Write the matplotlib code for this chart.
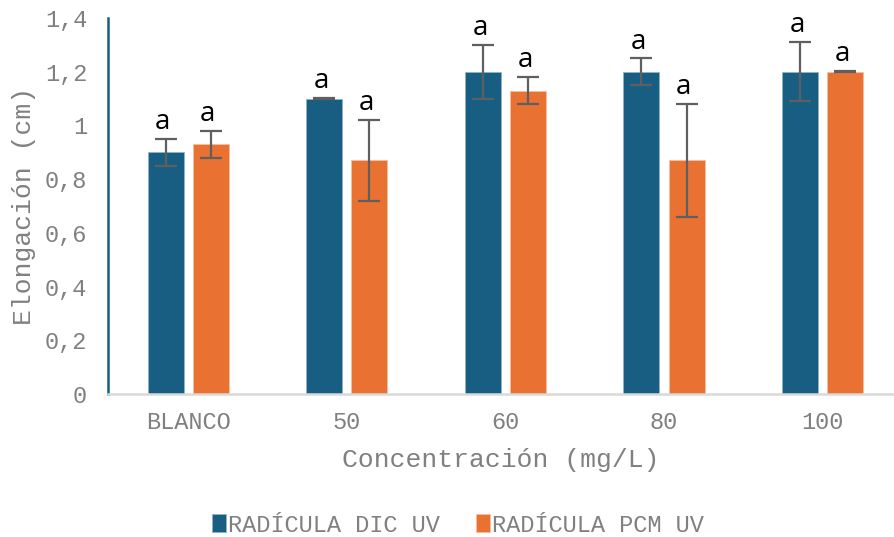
import numpy as np
import matplotlib
matplotlib.use("Agg")
import matplotlib.pyplot as plt

categories = ["BLANCO", "50", "60", "80", "100"]
dic_values = [0.90, 1.10, 1.20, 1.20, 1.20]
dic_errors = [0.05, 0.002, 0.10, 0.05, 0.11]
pcm_values = [0.93, 0.87, 1.13, 0.87, 1.20]
pcm_errors = [0.05, 0.15, 0.05, 0.21, 0.002]
dic_letters = ["a", "a", "a", "a", "a"]
pcm_letters = ["a", "a", "a", "a", "a"]
y_ticks = [0, 0.2, 0.4, 0.6, 0.8, 1.0, 1.2, 1.4]
y_tick_labels = ["0", "0,2", "0,4", "0,6", "0,8", "1", "1,2", "1,4"]

BLUE = "#175E82"
ORANGE = "#E97132"
GRAY_TXT = "#808080"
ERR = "#5F5F5F"
MONO = "Liberation Mono"

fig = plt.figure(figsize=(8.94, 5.37), dpi=100)
ax = fig.add_axes([108 / 894, 1 - 394 / 537, 1 - 108 / 894, 376 / 537])

x = np.arange(len(categories))
width = 0.227
offset = 0.142

err_kw = dict(ecolor=ERR, elinewidth=1.6, capsize=8, capthick=1.6)
b1 = ax.bar(x - offset, dic_values, width, color=BLUE, edgecolor="#8fb3c7",
            linewidth=0.6, yerr=dic_errors, error_kw=err_kw,
            label="RADÍCULA DIC UV", zorder=2)
b2 = ax.bar(x + offset, pcm_values, width, color=ORANGE, edgecolor="#f5c0a0",
            linewidth=0.6, yerr=pcm_errors, error_kw=err_kw,
            label="RADÍCULA PCM UV", zorder=2)

# significance letters above the error bars
for xs, vals, errs, letters in [(x - offset, dic_values, dic_errors, dic_letters),
                                (x + offset, pcm_values, pcm_errors, pcm_letters)]:
    for xi, v, e, lt in zip(xs, vals, errs, letters):
        ax.annotate(lt, (xi, v + e), xytext=(-2, 7), textcoords="offset points",
                    ha="center", va="baseline", fontsize=20,
                    family="Open Sans", color="black")

ax.set_xlim(-0.505, 4.45)
ax.set_ylim(0, 1.4)
ax.set_xticks(x)
ax.set_xticklabels(categories, family=MONO, fontsize=17, color=GRAY_TXT)
ax.set_yticks(y_ticks)
ax.set_yticklabels(y_tick_labels, family=MONO, fontsize=17, color=GRAY_TXT)
ax.tick_params(axis="both", length=0)
ax.tick_params(axis="y", pad=15)
ax.tick_params(axis="x", pad=12)

for s in ["top", "right"]:
    ax.spines[s].set_visible(False)
ax.spines["left"].set_color(BLUE)
ax.spines["left"].set_linewidth(1.8)
ax.spines["bottom"].set_color("#D9D9D9")
ax.spines["bottom"].set_linewidth(1.8)

ax.set_xlabel("Concentración (mg/L)", family=MONO, fontsize=19,
              color=GRAY_TXT, labelpad=10)
ax.set_ylabel("Elongación (cm)", family=MONO, fontsize=19,
              color=GRAY_TXT, labelpad=6)

fig.legend(handles=[b1, b2], loc="center", bbox_to_anchor=(458 / 894, 1 - 525 / 537),
           ncol=2, frameon=False, prop={"family": MONO, "size": 17},
           labelcolor=GRAY_TXT, handlelength=0.6, handleheight=0.8,
           handletextpad=0.1, columnspacing=1.5)

fig.savefig("out.png", dpi=100)
